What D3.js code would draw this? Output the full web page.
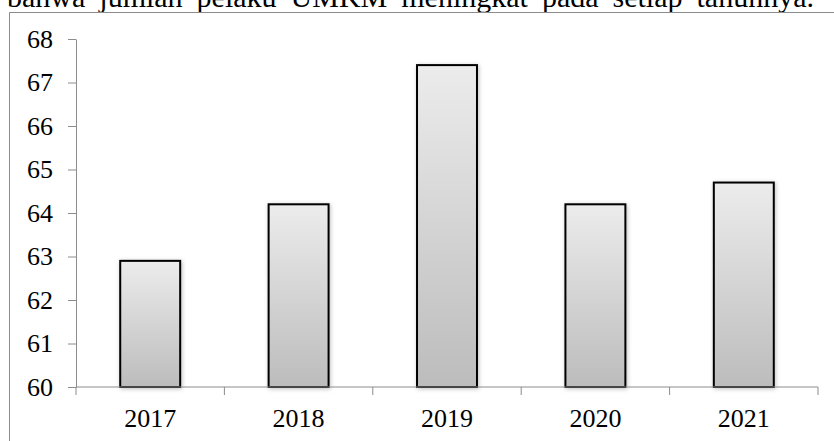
<!DOCTYPE html>
<html>
<head>
<meta charset="utf-8">
<script src="https://cdn.jsdelivr.net/npm/d3@7"></script>
<style>
  body { margin: 0; background: #fff; }
  svg text { font-family: "Liberation Serif", "Times New Roman", Times, serif !important; }
</style>
</head>
<body>
<svg id="chart" width="834" height="441"></svg>
<script>
const years = ["2017", "2018", "2019", "2020", "2021"];
const values = [62.9, 64.2, 67.4, 64.2, 64.7];
const yTicks = [60, 61, 62, 63, 64, 65, 66, 67, 68];
const caption = "bahwa jumlah pelaku UMKM meningkat pada setiap tahunnya.";

const svg = d3.select("#chart");
const margin = { left: 76, right: 16, top: 39, bottom: 54 };
const width = 834, height = 441;

// potongan teks paragraf di atas (terpotong oleh tepi gambar)
svg.append("text")
  .attr("x", 7).attr("y", 7)
  .style("font-size", "30px")
  .style("word-spacing", "6.5px")
  .text(caption);

// bingkai grafik
svg.append("path")
  .attr("d", `M9.5,441 V12.5 H834`)
  .attr("fill", "none")
  .attr("stroke", "#8c8c8c")
  .attr("stroke-width", 1);

const defs = svg.append("defs");
const grad = defs.append("linearGradient")
  .attr("id", "barGrad").attr("x1", 0).attr("y1", 0).attr("x2", 0).attr("y2", 1);
grad.append("stop").attr("offset", "0%").attr("stop-color", "#ececec");
grad.append("stop").attr("offset", "100%").attr("stop-color", "#bcbcbc");

const shadow = defs.append("filter").attr("id", "shadow")
  .attr("x", "-20%").attr("y", "-20%").attr("width", "140%").attr("height", "140%");
shadow.append("feDropShadow")
  .attr("dx", 1).attr("dy", 1).attr("stdDeviation", 2)
  .attr("flood-color", "#000").attr("flood-opacity", 0.25);

const x = d3.scaleBand()
  .domain(years)
  .range([margin.left, width - margin.right])
  .paddingInner(0.596).paddingOuter(0.298);

const y = d3.scaleLinear()
  .domain([60, 68])
  .range([height - margin.bottom, margin.top]);

// bar
svg.append("g")
  .selectAll("rect")
  .data(years)
  .join("rect")
  .attr("x", d => x(d))
  .attr("y", (d, i) => y(values[i]))
  .attr("width", x.bandwidth())
  .attr("height", (d, i) => y(60) - y(values[i]))
  .attr("fill", "url(#barGrad)")
  .attr("stroke", "#000")
  .attr("stroke-width", 2)
  .attr("filter", "url(#shadow)");

// sumbu Y
const yAxis = svg.append("g")
  .attr("transform", `translate(${margin.left},0)`)
  .call(d3.axisLeft(y).tickValues(yTicks).tickSize(8).tickPadding(15).tickSizeOuter(0));
yAxis.select(".domain").attr("stroke", "#8c8c8c");
yAxis.selectAll(".tick line").attr("stroke", "#8c8c8c");
yAxis.selectAll(".tick text")
  .style("font-size", "26px").attr("fill", "#000");

// sumbu X dengan tick di batas kategori
const bounds = d3.range(years.length + 1).map(i => margin.left + i * (width - margin.right - margin.left) / years.length);
const xg = svg.append("g");
xg.append("line")
  .attr("x1", margin.left).attr("x2", width - margin.right)
  .attr("y1", y(60)).attr("y2", y(60))
  .attr("stroke", "#8c8c8c");
xg.selectAll("line.tk")
  .data(bounds)
  .join("line")
  .attr("class", "tk")
  .attr("x1", d => d).attr("x2", d => d)
  .attr("y1", y(60)).attr("y2", y(60) + 8)
  .attr("stroke", "#8c8c8c");
xg.selectAll("text")
  .data(years)
  .join("text")
  .attr("x", d => x(d) + x.bandwidth() / 2)
  .attr("y", y(60) + 40)
  .attr("text-anchor", "middle")
  .style("font-size", "26px")
  .text(d => d);
</script>
</body>
</html>
